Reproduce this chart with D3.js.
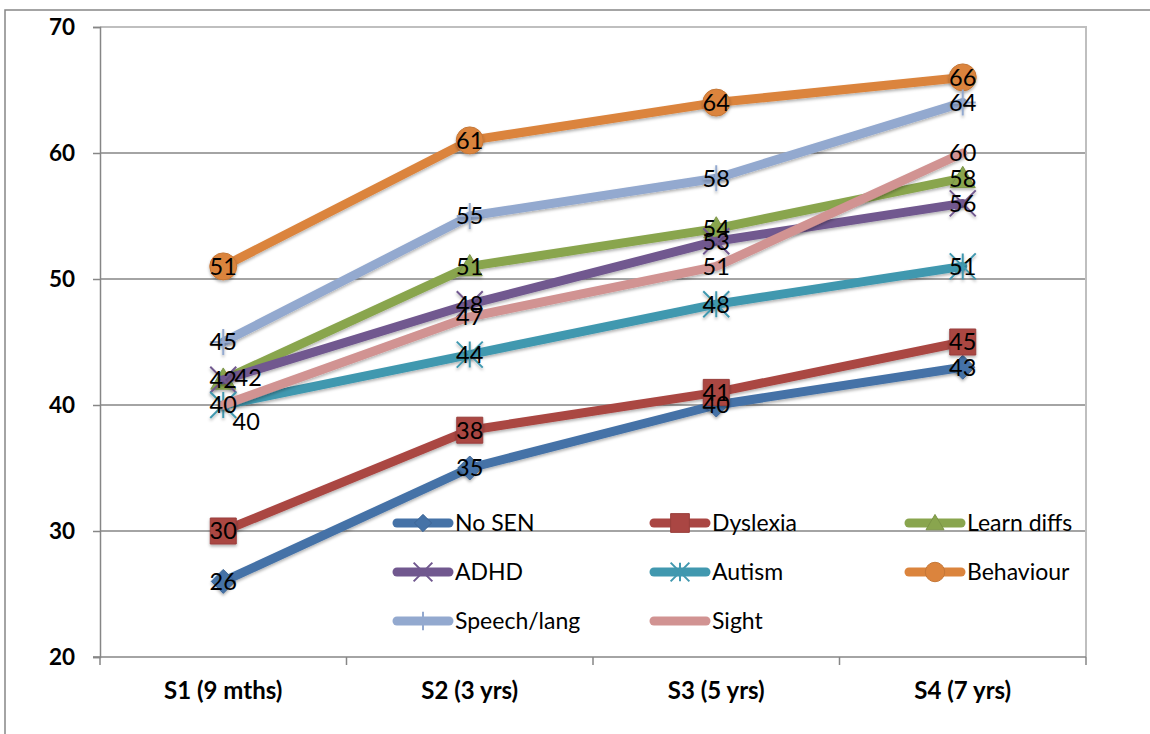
<!DOCTYPE html>
<html>
<head>
<meta charset="utf-8">
<script src="https://cdn.jsdelivr.net/npm/d3@7"></script>
<style>
  html, body { margin: 0; padding: 0; background: #fff; }
  svg { display: block; }
  text { font-family: Lato, "Open Sans", sans-serif; fill: #000; }
</style>
</head>
<body>
<svg id="chart" width="1150" height="734"></svg>
<script>
// Survey stages (x axis)
const categories = ["S1 (9 mths)", "S2 (3 yrs)", "S3 (5 yrs)", "S4 (7 yrs)"];

// Scores per group at each stage
const seriesNames = ["No SEN", "Dyslexia", "Learn diffs", "ADHD", "Autism", "Behaviour", "Speech/lang", "Sight"];
const noSEN      = [26, 35, 40, 43];
const dyslexia   = [30, 38, 41, 45];
const learnDiffs = [42, 51, 54, 58];
const adhd       = [42, 48, 53, 56];
const autism     = [40, 44, 48, 51];
const behaviour  = [51, 61, 64, 66];
const speechLang = [45, 55, 58, 64];
const sight      = [40, 47, 51, 60];
const seriesValues = [noSEN, dyslexia, learnDiffs, adhd, autism, behaviour, speechLang, sight];

// Y axis ticks
const yTicks = [20, 30, 40, 50, 60, 70];

const colors  = ["#4572A7", "#AA4643", "#89A54E", "#71588F", "#4198AF", "#DB843D", "#93A9CF", "#D19392"];
const markers = ["diamond", "square", "triangle", "x", "star", "circle", "plus", "dash"];

const svg = d3.select("#chart");

const defs = svg.append("defs");
const f = defs.append("filter").attr("id", "shadow")
  .attr("x", "-50%").attr("y", "-50%").attr("width", "200%").attr("height", "200%");
f.append("feDropShadow").attr("dx", 0).attr("dy", 2).attr("stdDeviation", 1.8)
  .attr("flood-color", "#000").attr("flood-opacity", 0.3);

// Outer chart frame
svg.append("rect").attr("x", 5).attr("y", 10).attr("width", 1200).attr("height", 800)
  .attr("fill", "none").attr("stroke", "#868686").attr("stroke-width", 1.5);

const plot = { left: 100, right: 1086, top: 27, bottom: 657 };

const x = d3.scaleBand().domain(categories).range([plot.left, plot.right]).padding(0);
const cx = c => x(c) + x.bandwidth() / 2;
const y = d3.scaleLinear().domain([20, 70]).range([plot.bottom, plot.top]);

// Horizontal gridlines
svg.append("g").selectAll("line").data(yTicks.filter(t => t > 20 && t < 70)).join("line")
  .attr("x1", plot.left).attr("x2", plot.right)
  .attr("y1", d => y(d)).attr("y2", d => y(d))
  .attr("stroke", "#868686").attr("stroke-width", 1.5);

// Plot area border (top / right)
svg.append("path")
  .attr("d", `M${plot.left},${y(70)}H${plot.right}V${plot.bottom}`)
  .attr("fill", "none").attr("stroke", "#BFBFBF").attr("stroke-width", 2);

// Y axis
const yAxis = svg.append("g").attr("transform", `translate(${plot.left},0)`)
  .call(d3.axisLeft(y).tickValues(yTicks).tickSize(7).tickPadding(18).tickFormat(d3.format("d")));
yAxis.select(".domain").attr("stroke", "#868686").attr("stroke-width", 1.5);
yAxis.selectAll(".tick line").attr("stroke", "#868686").attr("stroke-width", 1.5);
yAxis.selectAll(".tick text").attr("font-size", 22.5).attr("font-weight", "bold")
  .attr("font-family", "Lato, sans-serif").attr("dy", "0.35em");

// X axis: ticks sit on category boundaries, labels in band centres
const xg = svg.append("g").attr("transform", `translate(0,${plot.bottom})`);
xg.append("line").attr("x1", plot.left - 7).attr("x2", plot.right)
  .attr("stroke", "#868686").attr("stroke-width", 1.5);
const bounds = categories.map(c => x(c)).concat([plot.right]);
xg.selectAll("line.tk").data(bounds).join("line").attr("class", "tk")
  .attr("x1", d => d).attr("x2", d => d).attr("y1", 0).attr("y2", 8)
  .attr("stroke", "#868686").attr("stroke-width", 1.5);
xg.selectAll("text").data(categories).join("text")
  .attr("x", d => cx(d)).attr("y", 42).attr("text-anchor", "middle")
  .attr("font-size", 24).attr("font-weight", "bold").text(d => d);

// Marker shapes
function markerPath(type, s) {
  const h = s / 2;
  switch (type) {
    case "diamond": return `M0,${-h}L${h},0L0,${h}L${-h},0Z`;
    case "square": return `M${-h},${-h}H${h}V${h}H${-h}Z`;
    case "triangle": return `M0,${-h * 0.95}L${h},${h * 0.75}L${-h},${h * 0.75}Z`;
    case "circle": return d3.symbol(d3.symbolCircle, Math.PI * h * h)();
    case "x": return `M${-h},${-h}L${h},${h}M${h},${-h}L${-h},${h}`;
    case "star": return `M${-h},${-h}L${h},${h}M${h},${-h}L${-h},${h}M0,${-h}V${h}`;
    case "plus": return `M0,${-h}V${h}M${-h},0H${h}`;
    case "dash": return `M${-h * 0.45},0H${h * 0.45}`;
  }
}
const stroked = t => ["x", "star", "plus", "dash"].includes(t);
const markerSize = { diamond: 24, square: 26, triangle: 25, circle: 27, x: 26, star: 26, plus: 26, dash: 22 };

function drawMarker(g, type, color, s) {
  const p = g.append("path").attr("d", markerPath(type, s));
  if (stroked(type)) p.attr("fill", "none").attr("stroke", color).attr("stroke-width", 2);
  else p.attr("fill", color).attr("stroke", d3.color(color).darker(0.3)).attr("stroke-width", 1);
  return p;
}

const line = d3.line().x((d, i) => cx(categories[i])).y(d => y(d));

// Series lines and markers
seriesValues.forEach((vals, si) => {
  const g = svg.append("g");
  g.append("path").datum(vals).attr("d", line)
    .attr("fill", "none").attr("stroke", colors[si]).attr("stroke-width", 9)
    .attr("stroke-linecap", "round").attr("stroke-linejoin", "round")
    .attr("filter", "url(#shadow)");
  vals.forEach((v, i) => {
    const mg = g.append("g").attr("transform", `translate(${cx(categories[i])},${y(v)})`)
      .attr("filter", "url(#shadow)");
    drawMarker(mg, markers[si], colors[si], markerSize[markers[si]]);
  });
});

// Data labels (a few are nudged where points coincide)
const labelOffset = { "3-0": [25, -2], "4-0": [23, 17] };
const labels = svg.append("g");
seriesValues.forEach((vals, si) => {
  vals.forEach((v, i) => {
    const off = labelOffset[`${si}-${i}`] || [0, 0];
    labels.append("text")
      .attr("x", cx(categories[i]) + off[0]).attr("y", y(v) + off[1])
      .attr("dy", "0.36em").attr("text-anchor", "middle")
      .attr("font-size", 23.5).text(v);
  });
});

// Legend: three columns, three rows
const legCols = [393, 650, 905];
const legRows = [523, 572, 621];
const legend = svg.append("g");
seriesNames.forEach((name, si) => {
  const lx = legCols[si % 3], ly = legRows[Math.floor(si / 3)];
  const g = legend.append("g").attr("transform", `translate(${lx},${ly})`);
  g.append("line").attr("x1", 4).attr("x2", 56).attr("y1", 0).attr("y2", 0)
    .attr("stroke", colors[si]).attr("stroke-width", 9).attr("stroke-linecap", "round");
  const mg = g.append("g").attr("transform", "translate(30,0)");
  drawMarker(mg, markers[si], colors[si], markerSize[markers[si]] * 0.72);
  g.append("text").attr("x", 62).attr("y", 0).attr("dy", "0.36em")
    .attr("font-size", 23).text(name);
});
</script>
</body>
</html>
